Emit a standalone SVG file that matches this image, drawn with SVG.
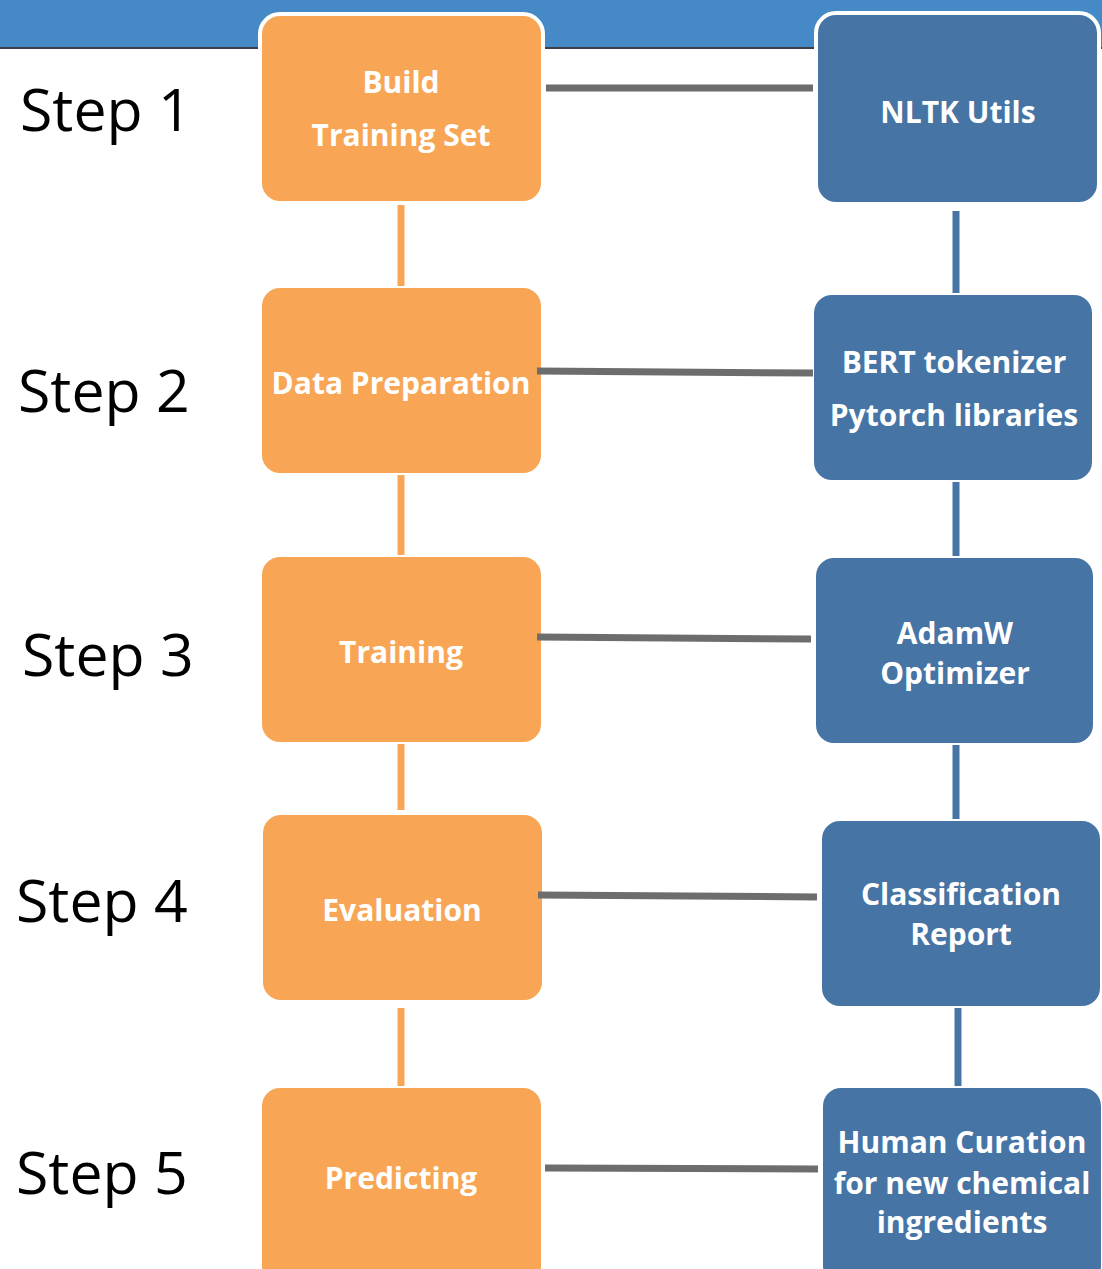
<svg xmlns="http://www.w3.org/2000/svg" width="1102" height="1269" viewBox="0 0 1102 1269">
<style>
.o{fill:#F8A655;stroke:#fff;stroke-width:4}
.b{fill:#4674A4;stroke:#fff;stroke-width:4}
.t{font-family:"Open Sans","Noto Sans",sans-serif;font-weight:bold;font-size:30px;fill:#fff;text-anchor:middle}
.s{font-family:"Open Sans","Noto Sans",sans-serif;font-size:59px;fill:#000}
.g{stroke:#6d6d6d;stroke-width:7;fill:none}
.ov{stroke:#F8A655;stroke-width:7;fill:none}
.bv{stroke:#4674A4;stroke-width:7;fill:none}
</style>
<rect x="0" y="0" width="1102" height="48" fill="#4589C6"/>
<line x1="0" y1="48" x2="1102" y2="48" stroke="#3a3f4a" stroke-width="2"/>
<g id="n1"><rect class="o" x="260" y="14" width="283" height="189" rx="20"/><text class="t" x="401" y="93">Build</text><text class="t" x="401" y="146">Training Set</text></g>
<g id="n2"><rect class="o" x="260" y="286" width="283" height="189" rx="20"/><text class="t" x="401" y="394">Data Preparation</text></g>
<g id="n3"><rect class="o" x="260" y="555" width="283" height="189" rx="20"/><text class="t" x="401" y="663">Training</text></g>
<g id="n4"><rect class="o" x="261" y="813" width="283" height="189" rx="20"/><text class="t" x="402" y="921">Evaluation</text></g>
<g id="n5"><rect class="o" x="260" y="1086" width="283" height="200" rx="20"/><text class="t" x="401" y="1189">Predicting</text></g>
<g id="m1"><rect class="b" x="816" y="13" width="283" height="191" rx="20"/><text class="t" x="958" y="123">NLTK Utils</text></g>
<g id="m2"><rect class="b" x="812" y="293" width="282" height="189" rx="20"/><text class="t" x="954" y="373">BERT tokenizer</text><text class="t" x="954" y="426">Pytorch libraries</text></g>
<g id="m3"><rect class="b" x="814" y="556" width="281" height="189" rx="20"/><text class="t" x="955" y="644">AdamW</text><text class="t" x="955" y="684">Optimizer</text></g>
<g id="m4"><rect class="b" x="820" y="819" width="282" height="189" rx="20"/><text class="t" x="961" y="905">Classification</text><text class="t" x="961" y="945">Report</text></g>
<g id="m5"><rect class="b" x="821" y="1086" width="282" height="200" rx="20"/><text class="t" x="962" y="1153">Human Curation</text><text class="t" x="962" y="1194">for new chemical</text><text class="t" x="962" y="1233">ingredients</text></g>
<g id="connectors">
<line class="ov" x1="401" y1="205" x2="401" y2="286"/>
<line class="ov" x1="401" y1="475" x2="401" y2="555"/>
<line class="ov" x1="401" y1="744" x2="401" y2="810"/>
<line class="ov" x1="401" y1="1008" x2="401" y2="1086"/>
<line class="bv" x1="956" y1="211" x2="956" y2="293"/>
<line class="bv" x1="956" y1="482" x2="956" y2="556"/>
<line class="bv" x1="956" y1="745" x2="956" y2="819"/>
<line class="bv" x1="958" y1="1008" x2="958" y2="1086"/>
<line class="g" x1="546" y1="88" x2="813" y2="88"/>
<line class="g" x1="537" y1="371" x2="813" y2="373"/>
<line class="g" x1="537" y1="637" x2="811" y2="639"/>
<line class="g" x1="538" y1="895" x2="817" y2="897"/>
<line class="g" x1="545" y1="1168" x2="818" y2="1169"/>
</g>
<g id="steps">
<text class="s" x="20" y="131">Step 1</text>
<text class="s" x="18" y="412">Step 2</text>
<text class="s" x="22" y="676">Step 3</text>
<text class="s" x="16" y="922">Step 4</text>
<text class="s" x="16" y="1194">Step 5</text>
</g>
</svg>
